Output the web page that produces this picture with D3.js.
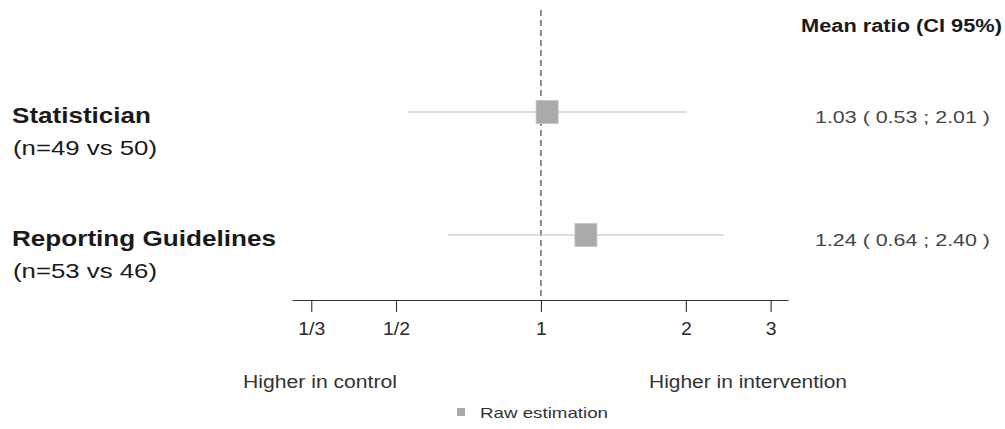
<!DOCTYPE html>
<html>
<head>
<meta charset="utf-8">
<script src="https://cdn.jsdelivr.net/npm/d3@7"></script>
<style>
  html, body { margin: 0; padding: 0; background: #fff; }
  svg { display: block; font-family: "Liberation Sans", Arial, Helvetica, sans-serif; }
</style>
</head>
<body>
<svg id="chart" width="1005" height="429"></svg>
<script>
// Forest plot: mean ratio (95% CI) of each intervention vs control
const groups = ["Statistician", "Reporting Guidelines"];
const sampleSizes = ["(n=49 vs 50)", "(n=53 vs 46)"];
const estimates = [1.03, 1.24];
const lower = [0.53, 0.64];
const upper = [2.01, 2.40];
const tickValues = [1 / 3, 1 / 2, 1, 2, 3];
const tickLabels = ["1/3", "1/2", "1", "2", "3"];
const axisLimits = [0.304, 3.26];

const svg = d3.select("#chart");

// Fit a text element to a given rendered width (wide, R-style lettering)
function fitWidth(sel, width) {
  sel.attr("textLength", width).attr("lengthAdjust", "spacingAndGlyphs");
  return sel;
}
function widen(sel, factor) {
  sel.each(function () {
    const w = this.getComputedTextLength();
    d3.select(this).attr("textLength", w * factor).attr("lengthAdjust", "spacingAndGlyphs");
  });
  return sel;
}

const x = d3.scaleLog().domain(axisLimits).range([292, 788]);
const y = d3.scalePoint().domain(groups).range([112, 235]);
const fmt = d3.format(".2f");

// reference line at ratio = 1
svg.append("line")
  .attr("x1", x(1)).attr("x2", x(1))
  .attr("y1", 10).attr("y2", 300)
  .attr("stroke", "#333").attr("stroke-width", 1.1)
  .attr("stroke-dasharray", "6,4");

// confidence intervals
svg.append("g").selectAll("line")
  .data(groups)
  .join("line")
  .attr("x1", (d, i) => x(lower[i]))
  .attr("x2", (d, i) => x(upper[i]))
  .attr("y1", d => y(d)).attr("y2", d => y(d))
  .attr("stroke", "#bdbdbd").attr("stroke-width", 1.2);

// point estimates
const boxW = 22, boxH = 23;
svg.append("g").selectAll("rect")
  .data(groups)
  .join("rect")
  .attr("x", (d, i) => x(estimates[i]) - boxW / 2)
  .attr("y", d => y(d) - boxH / 2)
  .attr("width", boxW).attr("height", boxH)
  .attr("fill", "#aaaaaa")
  .attr("stroke", "#c4c4c4").attr("stroke-width", 0.8);

// x axis
const axis = d3.axisBottom(x)
  .tickValues(tickValues)
  .tickFormat((d, i) => tickLabels[i])
  .tickSize(12)
  .tickSizeOuter(0);
const gx = svg.append("g").attr("transform", "translate(0,300)").call(axis);
gx.select(".domain").attr("stroke", "#333").attr("stroke-width", 1.1);
gx.selectAll(".tick line").attr("stroke", "#333").attr("stroke-width", 1.1);
gx.selectAll(".tick text")
  .attr("y", 35).attr("dy", null)
  .attr("fill", "#2a2a2a")
  .style("font-size", "18px")
  .call(widen, 1.08);

// group labels
const groupWidths = [139, 264];
const nWidths = [144, 144];
const labels = svg.append("g");
labels.selectAll("text.grp")
  .data(groups)
  .join("text")
  .attr("class", "grp")
  .attr("x", 12)
  .attr("y", d => y(d) + 11)
  .style("font-size", "22px").style("font-weight", "bold")
  .attr("fill", "#1a1a1a")
  .text(d => d)
  .attr("textLength", (d, i) => groupWidths[i])
  .attr("lengthAdjust", "spacingAndGlyphs");
labels.selectAll("text.n")
  .data(sampleSizes)
  .join("text")
  .attr("class", "n")
  .attr("x", 13)
  .attr("y", (d, i) => y(groups[i]) + 43)
  .style("font-size", "21px")
  .attr("fill", "#1a1a1a")
  .text(d => d)
  .attr("textLength", (d, i) => nWidths[i])
  .attr("lengthAdjust", "spacingAndGlyphs");

// estimate column
svg.append("text")
  .attr("x", 801).attr("y", 32)
  .style("font-size", "18px").style("font-weight", "bold")
  .attr("fill", "#1a1a1a")
  .text("Mean ratio (CI 95%)")
  .call(fitWidth, 201);
svg.append("g").selectAll("text")
  .data(groups)
  .join("text")
  .attr("x", 815)
  .attr("y", d => y(d) + 11)
  .style("font-size", "17px")
  .attr("fill", "#444")
  .text((d, i) => `${fmt(estimates[i])} ( ${fmt(lower[i])} ; ${fmt(upper[i])} )`)
  .call(fitWidth, 175);

// direction labels
svg.append("text")
  .attr("x", 243).attr("y", 388)
  .style("font-size", "18px").attr("fill", "#333")
  .text("Higher in control")
  .call(fitWidth, 154);
svg.append("text")
  .attr("x", 649).attr("y", 388)
  .style("font-size", "18px").attr("fill", "#333")
  .text("Higher in intervention")
  .call(fitWidth, 198);

// legend
svg.append("rect")
  .attr("x", 457).attr("y", 408).attr("width", 8).attr("height", 8)
  .attr("fill", "#aaaaaa");
svg.append("text")
  .attr("x", 480).attr("y", 418)
  .style("font-size", "15px").attr("fill", "#333")
  .text("Raw estimation")
  .call(fitWidth, 128);
</script>
</body>
</html>
